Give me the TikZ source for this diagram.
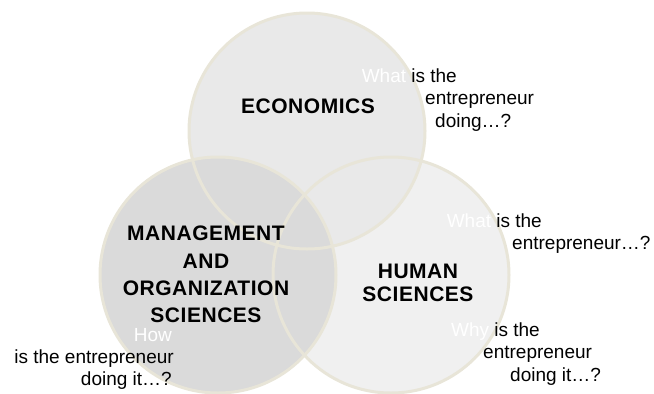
\documentclass[tikz,border=0pt]{standalone}
\usepackage{fontspec}
\setmainfont{Liberation Sans}
\definecolor{rimcol}{RGB}{232,229,216}
\definecolor{ecofill}{RGB}{233,233,233}
\definecolor{mgfill}{RGB}{218,218,218}
\definecolor{hufill}{RGB}{240,240,240}
\begin{document}
\begin{tikzpicture}[x=1pt,y=-1pt,
  rim/.style={draw=rimcol,line width=3pt},
  lbl/.style={inner sep=0,anchor=base,font=\fontsize{21}{25}\selectfont\bfseries\addfontfeature{LetterSpace=2.5}},
  qtxt/.style={inner sep=0,anchor=base west,font=\fontsize{19}{22.5}\selectfont},
  qtxte/.style={qtxt,anchor=base east}]
\useasboundingbox (0,0) rectangle (654,394);
% circle fills
\begin{scope}[blend group=darken]
\fill[ecofill] (307,131) circle[radius=118];
\fill[mgfill] (218,275) circle[radius=118];
\fill[hufill] (391,275) circle[radius=118];
\end{scope}
% outlines
\draw[rim] (307,131) circle[radius=118];
\draw[rim] (218,275) circle[radius=118];
\draw[rim] (391,275) circle[radius=118];
% labels
\node[lbl] (eco) at (308,113) {ECONOMICS};
\node[lbl] (mg1) at (206,240) {MANAGEMENT};
\node[lbl] (mg2) at (206,268) {AND};
\node[lbl] (mg3) at (206,295) {ORGANIZATION};
\node[lbl] (mg4) at (206,322) {SCIENCES};
\node[lbl] (hu1) at (418,278) {HUMAN};
\node[lbl] (hu2) at (418,301) {SCIENCES};
% question texts
\node[qtxte] (a1) at (457,82) {{\color{white}What} is the};
\node[qtxt] (a2) at (425,104.5) {entrepreneur};
\node[qtxt] (a3) at (435,127) {doing…?};
\node[qtxte] (b1) at (542,227) {{\color{white}What} is the};
\node[qtxt] (b2) at (512,249.5) {entrepreneur…?};
\node[qtxte] (c1) at (540,336) {{\color{white}Why} is the};
\node[qtxt] (c2) at (483,358.5) {entrepreneur};
\node[qtxt] (c3) at (510,381) {doing it…?};
\node[qtxte] (d0) at (172,341) {{\color{white}How}};
\node[qtxte] (d1) at (174,363) {is the entrepreneur};
\node[qtxte] (d2) at (172,385.5) {doing it…?};
\end{tikzpicture}
\end{document}
